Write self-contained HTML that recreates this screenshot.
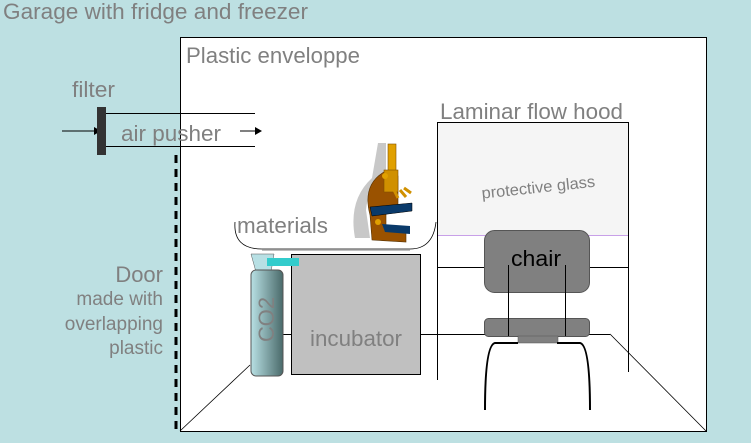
<!DOCTYPE html><html><head><style>body{margin:0;background:#bde0e2;width:751px;height:438px;overflow:hidden;font-family:"Liberation Sans",sans-serif}</style></head><body>
<svg width="751" height="438" xmlns="http://www.w3.org/2000/svg" font-family="Liberation Sans, sans-serif">
<rect width="751" height="438" fill="#bde0e2"/>
<text x="3" y="19" font-size="22" fill="#808080" textLength="305" lengthAdjust="spacingAndGlyphs">Garage with fridge and freezer</text>
<rect x="180.5" y="37.5" width="526" height="394" fill="#fff" stroke="#000"/>
<text x="186" y="63" font-size="22" fill="#808080" textLength="174" lengthAdjust="spacingAndGlyphs">Plastic enveloppe</text>
<line x1="180" y1="431" x2="250" y2="365" stroke="#000" stroke-width="0.8"/>
<line x1="610" y1="334" x2="706" y2="431" stroke="#000" stroke-width="0.8"/>
<line x1="280" y1="334.5" x2="610" y2="334.5" stroke="#000"/>
<rect x="437.5" y="122.5" width="191" height="113" fill="#f5f5f5"/>
<line x1="437" y1="235.5" x2="629" y2="235.5" stroke="#c8a0e8"/>
<line x1="437.5" y1="122" x2="437.5" y2="380" stroke="#000"/>
<line x1="628.5" y1="122" x2="628.5" y2="372" stroke="#000"/>
<line x1="437" y1="122.5" x2="629" y2="122.5" stroke="#000"/>
<text x="440" y="119" font-size="22" fill="#808080" textLength="183" lengthAdjust="spacingAndGlyphs">Laminar flow hood</text>
<text x="481" y="193" font-size="16" fill="#808080" transform="rotate(-6 535 185)" textLength="114" lengthAdjust="spacingAndGlyphs">protective glass</text>
<line x1="437" y1="267.5" x2="485" y2="267.5" stroke="#000"/>
<line x1="590" y1="267.5" x2="629" y2="267.5" stroke="#000"/>
<rect x="484.5" y="230.5" width="105" height="62" rx="10" fill="#808080" stroke="#555"/>
<text x="511" y="266" font-size="22" fill="#000" textLength="50" lengthAdjust="spacingAndGlyphs">chair</text>
<rect x="484.5" y="318.5" width="105" height="18" rx="4" fill="#808080" stroke="#555"/>
<rect x="518" y="336" width="40" height="7" fill="#808080" stroke="#555" stroke-width="0.5"/>
<line x1="508.5" y1="265" x2="508.5" y2="336" stroke="#000"/>
<line x1="565.5" y1="265" x2="565.5" y2="336" stroke="#000"/>
<path d="M485,410 Q485,345 495,343 L518,343 M557,343 L580,343 Q590,345 590,410" fill="none" stroke="#000" stroke-width="2"/>
<rect x="291.5" y="254.5" width="129" height="120" fill="#c0c0c0" stroke="#000"/>
<text x="310" y="346" font-size="22" fill="#808080" textLength="92" lengthAdjust="spacingAndGlyphs">incubator</text>
<defs><linearGradient id="g" x1="0" x2="1"><stop offset="0" stop-color="#b8e0e4"/><stop offset="1" stop-color="#4a6a6a"/></linearGradient></defs>
<path d="M251,254 L274,254 L271,272 L256,272 Z" fill="#b8e0e4" stroke="#555" stroke-width="0.5"/>
<rect x="251" y="270" width="32" height="106" rx="5" fill="url(#g)" stroke="#555"/>
<text x="274" y="342" font-size="22" fill="#808080" transform="rotate(-90 274 342)" textLength="45" lengthAdjust="spacingAndGlyphs">CO2</text>
<rect x="267" y="258" width="32" height="8" fill="#33cccc"/>
<path d="M235,222 Q233,249 262,249 L410,249 Q433,249 436,222" fill="none" stroke="#000" stroke-width="0.8"/>
<line x1="262" y1="250" x2="410" y2="250" stroke="#aaa" stroke-width="1.5"/>
<text x="237" y="233" font-size="22" fill="#808080" textLength="91" lengthAdjust="spacingAndGlyphs">materials</text>
<g>
<path d="M378,143 L386,143 L386,182 Q368,186 366,210 L370,238 L355,238 Q348,200 372,178 Z" fill="#c8c8c8"/>
<path d="M384,172 Q362,185 370,215 L372,240 L406,242 L406,233 L386,231 L386,214 L398,204 L398,176 Z" fill="#9a5200" stroke="#553000" stroke-width="0.6"/>
<rect x="388" y="144" width="8" height="46" fill="#e0a000" stroke="#805000" stroke-width="0.6"/>
<rect x="384" y="170" width="14" height="22" fill="#d09000" stroke="#805000" stroke-width="0.6"/>
<path d="M394,190 l4,8 M400,190 l6,7 M404,188 l7,5" stroke="#d09000" stroke-width="3" fill="none"/>
<path d="M370,207 L412,203 L412,211 L372,216 Z" fill="#0a3a6a" stroke="#000" stroke-width="0.5"/>
<path d="M382,224 L410,226 L410,234 L385,232 Z" fill="#0a3a6a"/>
<circle cx="378" cy="222" r="3" fill="#e0a000"/>
<circle cx="385" cy="176" r="3" fill="#e0a000"/>
</g>
<line x1="100" y1="113.5" x2="255" y2="113.5" stroke="#000"/>
<line x1="100" y1="146.5" x2="255" y2="146.5" stroke="#000"/>
<line x1="62" y1="131" x2="94" y2="131" stroke="#000"/>
<path d="M94,127 L101,131 L94,135 Z" fill="#000"/>
<line x1="240" y1="131" x2="256" y2="131" stroke="#000"/>
<path d="M255,127 L262,131 L255,135 Z" fill="#000"/>
<rect x="97" y="107" width="9" height="48" fill="#333"/>
<text x="72" y="97" font-size="22" fill="#808080" textLength="43" lengthAdjust="spacingAndGlyphs">filter</text>
<text x="121" y="141" font-size="22" fill="#808080" textLength="100" lengthAdjust="spacingAndGlyphs">air pusher</text>
<line x1="176" y1="155" x2="176" y2="432" stroke="#000" stroke-width="3" stroke-dasharray="8,6"/>
<g fill="#808080" text-anchor="end"><text x="163" y="282" font-size="22">Door</text>
<text x="163" y="305" font-size="19">made with</text>
<text x="163" y="330" font-size="19">overlapping</text>
<text x="163" y="354" font-size="19">plastic</text></g>
</svg></body></html>
